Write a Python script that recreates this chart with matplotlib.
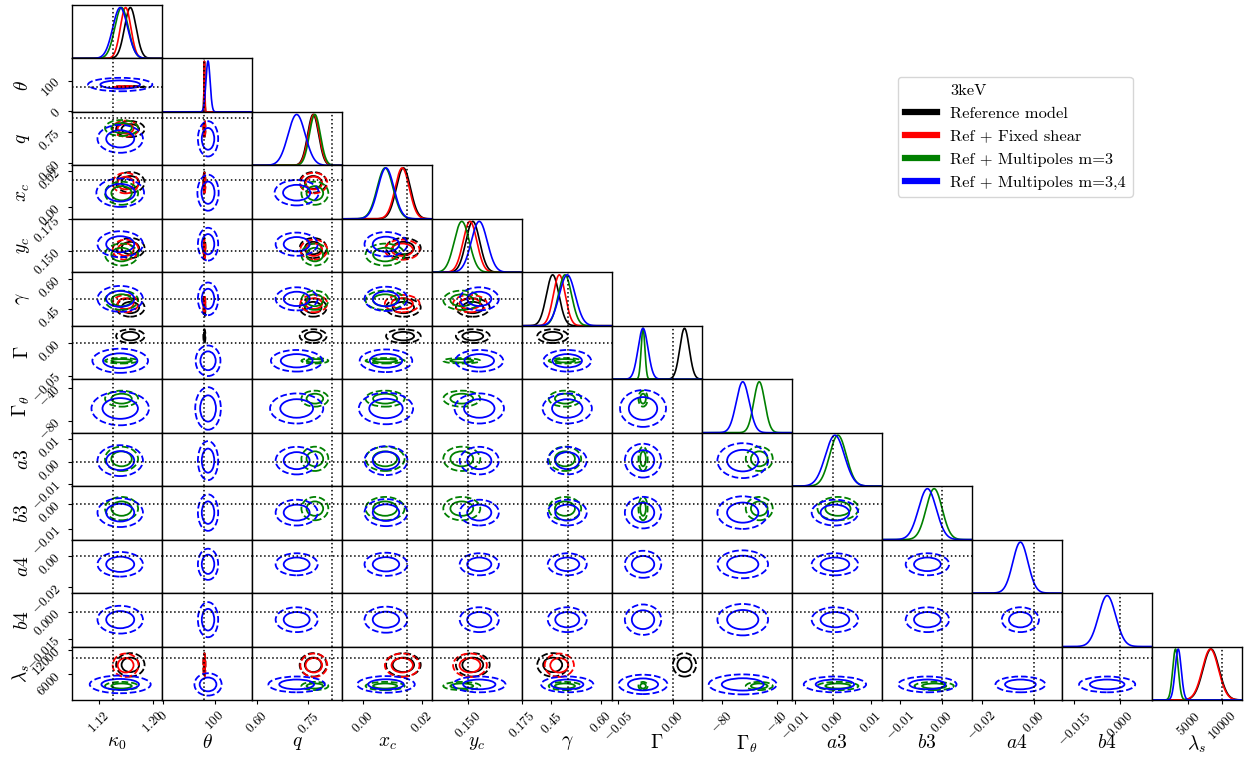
"""
Corner plot (lower triangle) of four lens-model posteriors, 3keV case.
Each model is summarised by a mean and width per parameter, read off the figure.
"""

import numpy as np
import matplotlib
matplotlib.use("Agg")
import matplotlib.pyplot as plt
from matplotlib.patches import Ellipse
from matplotlib.lines import Line2D

plt.rcParams.update({
    "font.family": ["cmr10", "DejaVu Serif"],
    "mathtext.fontset": "cm",
    "axes.formatter.use_mathtext": True,
    "axes.linewidth": 1.0,
})

nan = np.nan

# ----------------------------------------------------------------
# Parameters, plot ranges, truths and ticks
# ----------------------------------------------------------------
param_labels = [r"$\kappa_0$", r"$\theta$", r"$q$", r"$x_c$", r"$y_c$", r"$\gamma$",
                r"$\Gamma$", r"$\Gamma_\theta$", r"$a3$", r"$b3$", r"$a4$", r"$b4$",
                r"$\lambda_s$"]
param_lo = [1.0796, -2.0, 0.586, -0.0070, 0.1335, 0.3625, -0.0552, -94.3,
            -0.0108, -0.01425, -0.0237, -0.0190, -400.0]
param_hi = [1.2129, 172.0, 0.848, 0.0235, 0.1752, 0.634, 0.0266, -28.9,
            0.0129, 0.00706, 0.0107, 0.0105, 13000.0]
truths = [1.14, 80.0, 0.818, 0.015, 0.150, 0.50, 0.0, nan, 0.0, 0.0, 0.0, 0.0, 10000.0]

x_ticks = [[1.12, 1.20], [0, 100], [0.60, 0.75], [0.00, 0.02], [0.150, 0.175],
           [0.45, 0.60], [-0.05, 0.00], [-80, -40], [-0.01, 0.00, 0.01],
           [-0.01, 0.00], [-0.02, 0.00], [-0.015, 0.000], [5000, 10000]]
x_tick_labels = [["1.12", "1.20"], ["0", "100"], ["0.60", "0.75"], ["0.00", "0.02"],
                 ["0.150", "0.175"], ["0.45", "0.60"], ["-0.05", "0.00"], ["-80", "-40"],
                 ["-0.01", "0.00", "0.01"], ["-0.01", "0.00"], ["-0.02", "0.00"],
                 ["-0.015", "0.000"], ["5000", "10000"]]
y_ticks = x_ticks[:12] + [[6000, 12000]]
y_tick_labels = x_tick_labels[:12] + [["6000", "12000"]]

# ----------------------------------------------------------------
# Posterior summaries (mean, width) for each model
# ----------------------------------------------------------------
model_names = ["Reference model", "Ref + Fixed shear",
               "Ref + Multipoles m=3", "Ref + Multipoles m=3,4"]
model_colors = ["black", "red", "green", "blue"]

mean_ref = [1.166, 80.0, 0.764, 0.0138, 0.1524, 0.455, 0.0107, nan,
            nan, nan, nan, nan, 8400]
sig_ref = [0.0086, 0.8, 0.016, 0.0024, 0.0032, 0.019, 0.0043, nan,
           nan, nan, nan, nan, 1200]

mean_shear = [1.159, 80.0, 0.766, 0.0134, 0.1511, 0.475, nan, nan,
              nan, nan, nan, nan, 8300]
sig_shear = [0.0078, 0.8, 0.016, 0.0024, 0.0032, 0.018, nan, nan,
             nan, nan, nan, nan, 1200]

mean_m3 = [1.153, nan, 0.769, 0.0076, 0.1473, 0.492, -0.0270, -52.7,
           0.0013, -0.0019, nan, nan, 3100]
sig_m3 = [0.0100, nan, 0.016, 0.0027, 0.0035, 0.020, 0.0017, 4.0,
          0.0022, 0.0019, nan, nan, 420]

mean_m34 = [1.151, 87.0, 0.716, 0.0079, 0.1554, 0.499, -0.0270, -64.7,
            0.0005, -0.0035, -0.0052, -0.0042, 3500]
sig_m34 = [0.0110, 4.0, 0.025, 0.0027, 0.0037, 0.024, 0.0045, 4.7,
           0.0025, 0.0021, 0.0029, 0.0028, 450]
# the m=3,4 chain has broader 2D contours than its 1D peaks for some parameters
spread2d_m34 = [1.25, 2.0, 1.0, 1.1, 1.0, 1.0, 1.5, 1.6, 1.0, 1.0, 1.0, 1.0, 1.8]

means = [mean_ref, mean_shear, mean_m3, mean_m34]
sigmas = [sig_ref, sig_shear, sig_m3, sig_m34]
spreads = [[1.0] * 13, [1.0] * 13, [1.0] * 13, spread2d_m34]

contour_levels = [0.68, 0.95]
contour_styles = ["-", "--"]

n = len(param_labels)

# ----------------------------------------------------------------
# Figure
# ----------------------------------------------------------------
fig = plt.figure(figsize=(12.5, 7.67), dpi=100)
gs = fig.add_gridspec(n, n, left=0.0576, right=0.9936, top=0.9935, bottom=0.0874,
                      wspace=0, hspace=0)

TICK_FS = 9.5
LABEL_FS = 14


def math(s):
    return "$" + s + "$"


for i in range(n):
    for j in range(i + 1):
        ax = fig.add_subplot(gs[i, j])
        ax.set_xlim(param_lo[j], param_hi[j])

        if i == j:
            # 1D marginals, peak normalised
            xs = np.linspace(param_lo[j], param_hi[j], 600)
            for m in range(4):
                mu, sd = means[m][j], sigmas[m][j]
                if np.isnan(mu):
                    continue
                ax.plot(xs, np.exp(-0.5 * ((xs - mu) / sd) ** 2),
                        color=model_colors[m], lw=1.2)
            ax.set_ylim(0, 1.05)
            if not np.isnan(truths[j]):
                ax.axvline(truths[j], color="k", ls=":", lw=1.1)
        else:
            ax.set_ylim(param_lo[i], param_hi[i])
            for m in range(4):
                mx, my = means[m][j], means[m][i]
                if np.isnan(mx) or np.isnan(my):
                    continue
                sj, si = spreads[m][j], spreads[m][i]
                sx = sigmas[m][j] * sj * np.sqrt(si)
                sy = sigmas[m][i] * si * np.sqrt(sj)
                for lev, ls in zip(contour_levels, contour_styles):
                    r = np.sqrt(-2 * np.log(1 - lev))
                    ax.add_patch(Ellipse((mx, my), 2 * r * sx, 2 * r * sy, fill=False,
                                         ec=model_colors[m], ls=ls, lw=1.3))
            if not np.isnan(truths[j]):
                ax.axvline(truths[j], color="k", ls=":", lw=1.1)
            if not np.isnan(truths[i]):
                ax.axhline(truths[i], color="k", ls=":", lw=1.1)

        # ticks and labels only on the outer edge
        if i == n - 1:
            ax.set_xticks(x_ticks[j], [math(t) for t in x_tick_labels[j]])
            ax.tick_params(axis="x", labelsize=TICK_FS, length=3, labelrotation=45)
            ax.set_xlabel(param_labels[j], fontsize=LABEL_FS)
            ax.xaxis.set_label_coords(0.5, -0.64)
        else:
            ax.set_xticks([])
        if j == 0 and i > 0:
            ax.set_yticks(y_ticks[i], [math(t) for t in y_tick_labels[i]])
            ax.tick_params(axis="y", labelsize=TICK_FS, length=3, labelrotation=45)
            ax.set_ylabel(param_labels[i], fontsize=LABEL_FS)
            ax.yaxis.set_label_coords(-0.45, 0.5)
        else:
            ax.set_yticks([])

# ----------------------------------------------------------------
# Legend
# ----------------------------------------------------------------
handles = [Line2D([], [], color="none")]
handles += [Line2D([], [], color=c, lw=4.5) for c in model_colors]
labels = ["3keV"] + model_names
fig.legend(handles, labels, loc="upper left", bbox_to_anchor=(0.7184, 0.8996),
           borderaxespad=0, fontsize=11.8, handlelength=2.0, labelspacing=0.52)

fig.savefig("out.png", dpi=100)
